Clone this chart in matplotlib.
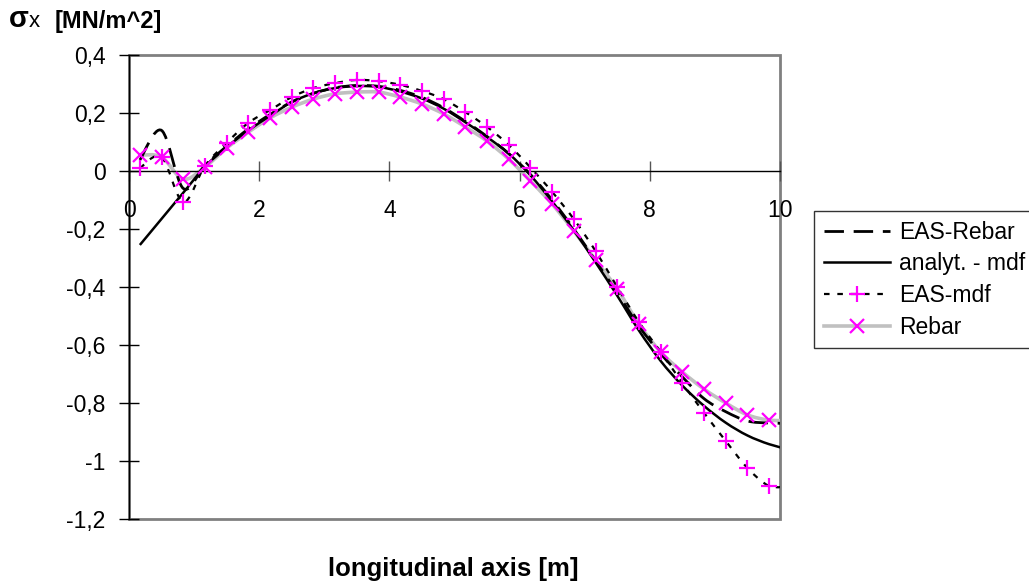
import numpy as np
import matplotlib
matplotlib.use('Agg')
import matplotlib.pyplot as plt
from matplotlib.path import Path
from matplotlib.patches import PathPatch, Rectangle
from matplotlib.lines import Line2D
from matplotlib.ticker import FuncFormatter, FixedLocator

plt.rcParams['font.family'] = ['Liberation Sans', 'DejaVu Sans']
plt.rcParams['axes.unicode_minus'] = False

# ---------------- data ----------------
x_pos = [0.167, 0.5, 0.833, 1.167, 1.5, 1.833, 2.167, 2.5, 2.833, 3.167, 3.5,
         3.833, 4.167, 4.5, 4.833, 5.167, 5.5, 5.833, 6.167, 6.5, 6.833, 7.167,
         7.5, 7.833, 8.167, 8.5, 8.833, 9.167, 9.5, 9.833, 10.167]

eas_rebar = [0.038, 0.14, -0.06, 0.02, 0.085, 0.145, 0.195, 0.238, 0.268, 0.287,
             0.295, 0.292, 0.278, 0.254, 0.218, 0.171, 0.119, 0.06, -0.012, -0.1,
             -0.2, -0.31, -0.42, -0.535, -0.63, -0.71, -0.785, -0.83, -0.862,
             -0.869, -0.87]

analyt_mdf = [-0.255, -0.165, -0.075, 0.015, 0.082, 0.14, 0.19, 0.238, 0.268,
              0.286, 0.293, 0.29, 0.274, 0.25, 0.215, 0.168, 0.117, 0.06, -0.015,
              -0.105, -0.205, -0.315, -0.43, -0.55, -0.655, -0.74, -0.81, -0.868,
              -0.912, -0.942, -0.962]

eas_mdf = [0.010, 0.048, -0.107, 0.018, 0.097, 0.166, 0.21, 0.255, 0.286, 0.303,
           0.314, 0.31, 0.297, 0.276, 0.248, 0.203, 0.152, 0.09, 0.012, -0.072,
           -0.166, -0.276, -0.4, -0.521, -0.624, -0.731, -0.834, -0.931, -1.024,
           -1.086, -1.086]

rebar = [0.055, 0.048, -0.028, 0.014, 0.079, 0.134, 0.183, 0.22, 0.248, 0.266,
         0.272, 0.272, 0.255, 0.231, 0.197, 0.152, 0.103, 0.041, -0.034, -0.114,
         -0.207, -0.307, -0.407, -0.528, -0.624, -0.693, -0.752, -0.80, -0.841,
         -0.859, -0.86]

x_ticks = [0, 2, 4, 6, 8, 10]
y_ticks = [-1.2, -1.0, -0.8, -0.6, -0.4, -0.2, 0.0, 0.2, 0.4]
labels = ['EAS-Rebar', 'analyt. - mdf', 'EAS-mdf', 'Rebar']

MAGENTA = '#FF00FF'
GRAY_LINE = '#c0c0c0'
FRAME = '#808080'
DASH_LONG = (0, (7, 3.5))
DASH_SHORT = (0, (2.5, 3.5))


def smooth_path(xs, ys):
    """Bezier path (smoothed line, as in spreadsheet charts) through the points."""
    p = np.column_stack([xs, ys]).astype(float)
    n = len(p)
    verts = [p[0]]
    codes = [Path.MOVETO]
    for i in range(n - 1):
        pm = p[i - 1] if i > 0 else p[i]
        p2 = p[i + 2] if i + 2 < n else p[i + 1]
        c1 = p[i] + (p[i + 1] - pm) / 6.0
        c2 = p[i + 1] - (p2 - p[i]) / 6.0
        verts += [c1, c2, p[i + 1]]
        codes += [Path.CURVE4] * 3
    return Path(verts, codes)


fig = plt.figure(figsize=(10.29, 5.81), dpi=100)
ax = fig.add_axes([129 / 1029, 1 - 519 / 581, (780 - 129) / 1029, (519 - 55) / 581])
ax.set_xlim(0, 10)
ax.set_ylim(-1.2, 0.4)

# lines (smoothed)
ax.add_patch(PathPatch(smooth_path(x_pos, rebar), fill=False, edgecolor=GRAY_LINE,
                       lw=2.6, zorder=2))
ax.add_patch(PathPatch(smooth_path(x_pos, analyt_mdf), fill=False, edgecolor='black',
                       lw=1.8, zorder=3))
ax.add_patch(PathPatch(smooth_path(x_pos, eas_rebar), fill=False, edgecolor='black',
                       lw=2.0, linestyle=DASH_LONG, zorder=3))
ax.add_patch(PathPatch(smooth_path(x_pos, eas_mdf), fill=False, edgecolor='black',
                       lw=1.6, linestyle=DASH_SHORT, zorder=3))

# markers
ax.plot(x_pos, eas_mdf, linestyle='none', marker='+', ms=11, mew=1.6,
        color=MAGENTA, zorder=4)
ax.plot(x_pos, rebar, linestyle='none', marker='x', ms=9.5, mew=1.6,
        color=MAGENTA, zorder=4)

# frame: gray rectangle, black left spine, x axis at y=0
for s in ['top', 'right']:
    ax.spines[s].set_visible(False)
ax.add_patch(Rectangle((0, 0), 1, 1, transform=ax.transAxes, fill=False,
                       edgecolor=FRAME, lw=2.0, zorder=1, clip_on=False))
ax.spines['left'].set_color('black')
ax.spines['left'].set_linewidth(1.0)
ax.spines['left'].set_zorder(5)
ax.spines['bottom'].set_position(('data', 0))
ax.spines['bottom'].set_color('black')
ax.spines['bottom'].set_linewidth(1.0)

ax.xaxis.set_major_locator(FixedLocator(x_ticks))
ax.yaxis.set_major_locator(FixedLocator(y_ticks))
fmt = FuncFormatter(lambda v, p: ('%g' % round(v, 2)).replace('.', ','))
ax.xaxis.set_major_formatter(fmt)
ax.yaxis.set_major_formatter(fmt)
ax.tick_params(axis='x', direction='inout', length=14, width=1, color='#555555',
               labelsize=16.5, pad=13)
ax.tick_params(axis='y', direction='inout', length=14, width=1, color='black',
               labelsize=16.5, pad=10)

# titles
fig.text(9 / 1029, 1 - 27 / 581, 'σ', fontsize=21, fontweight='bold', va='baseline')
fig.text(29 / 1029, 1 - 27 / 581, 'x', fontsize=16, va='baseline')
fig.text(55 / 1029, 1 - 28 / 581, '[MN/m^2]', fontsize=17, fontweight='bold',
         va='baseline')
fig.text(453 / 1029, 1 - 576 / 581, 'longitudinal axis [m]', fontsize=18.5,
         fontweight='bold', ha='center', va='baseline')

# legend
handles = [
    Line2D([], [], color='black', lw=2.0, linestyle=DASH_LONG),
    Line2D([], [], color='black', lw=1.8),
    Line2D([], [], color='black', lw=1.6, linestyle=DASH_SHORT, marker='+',
           ms=11, mew=1.6, mfc=MAGENTA, mec=MAGENTA),
    Line2D([], [], color=GRAY_LINE, lw=2.6, marker='x', ms=9.5, mew=1.6,
           mfc=MAGENTA, mec=MAGENTA),
]
leg = fig.legend(handles, labels, loc='upper left',
                 bbox_to_anchor=(814 / 1029, 1 - 211 / 581), frameon=True,
                 fancybox=False, edgecolor='black', fontsize=16.5,
                 handlelength=2.9, handletextpad=0.4, labelspacing=0.38,
                 borderpad=0.42, borderaxespad=0)
leg.get_frame().set_linewidth(1.0)

fig.savefig('out.png', dpi=100)
